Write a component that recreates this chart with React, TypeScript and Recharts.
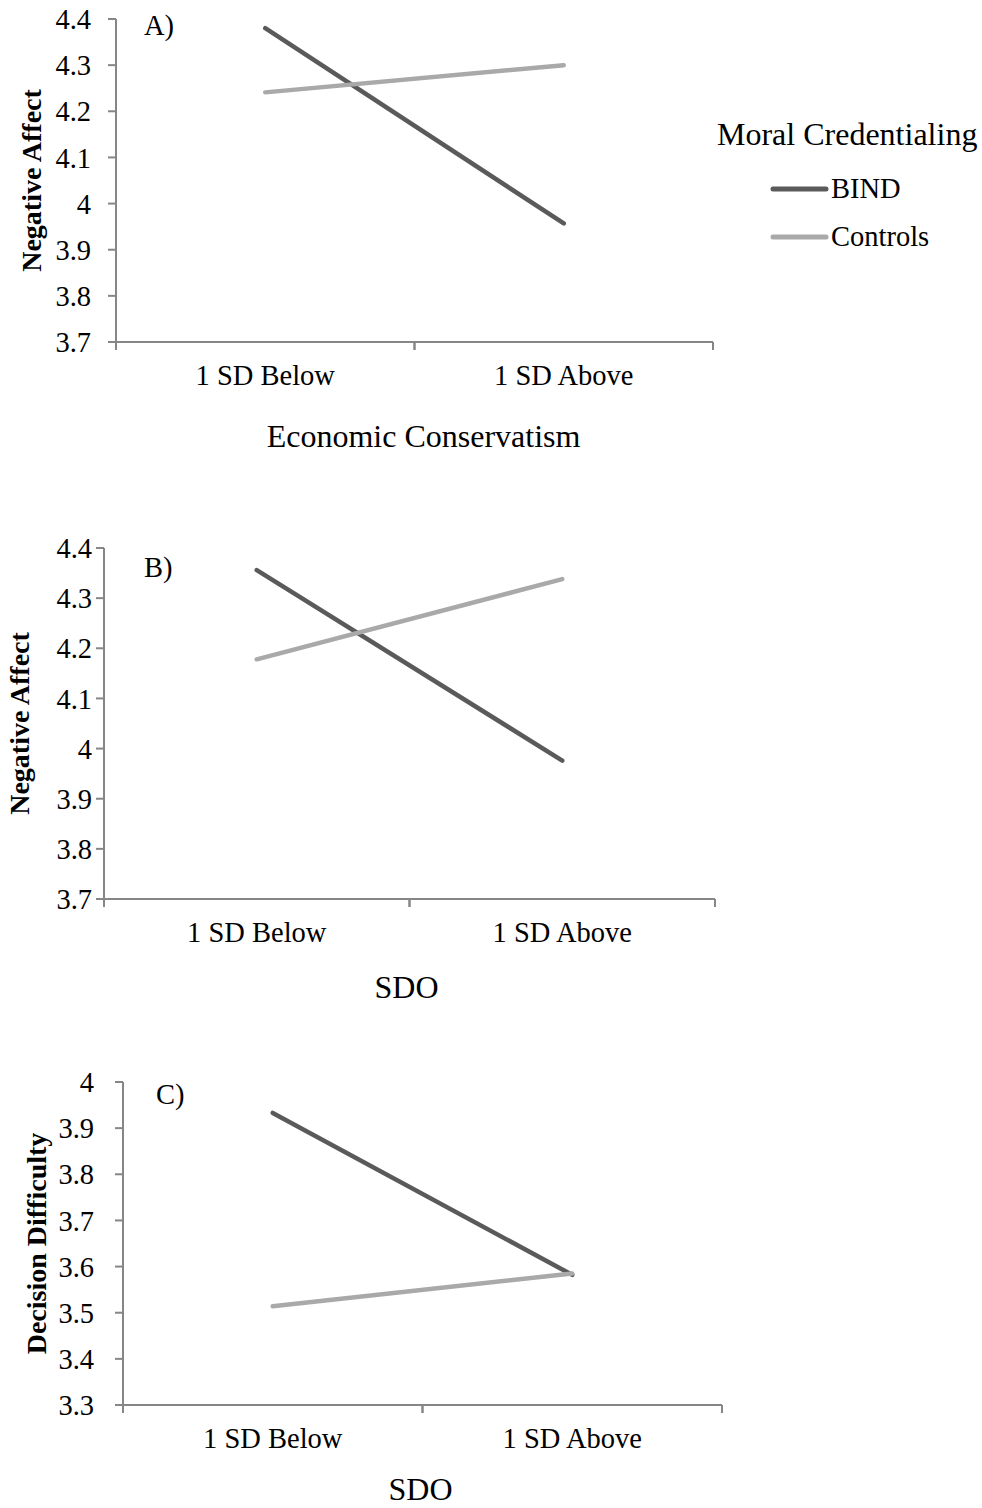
import React from 'react';
import { LineChart, Line, XAxis, YAxis, Legend } from 'recharts';

// ---------- data ----------
const categories = ['1 SD Below', '1 SD Above'];
const seriesNames = ['BIND', 'Controls'];
const seriesColors = ['#5a5a5a', '#a9a9a9'];
const legendTitle = 'Moral Credentialing';

const bindA = [4.38, 3.957];
const controlsA = [4.241, 4.3];
const bindB = [4.356, 3.976];
const controlsB = [4.178, 4.338];
const bindC = [3.933, 3.582];
const controlsC = [3.514, 3.585];

const ticksNegAffect = [3.7, 3.8, 3.9, 4, 4.1, 4.2, 4.3, 4.4];
const ticksDecision = [3.3, 3.4, 3.5, 3.6, 3.7, 3.8, 3.9, 4];

const buildRows = (bind: number[], controls: number[]) =>
  categories.map((c, i) => ({ cat: c, [seriesNames[0]]: bind[i], [seriesNames[1]]: controls[i] }));

const rowsA = buildRows(bindA, controlsA);
const rowsB = buildRows(bindB, controlsB);
const rowsC = buildRows(bindC, controlsC);

// ---------- styles ----------
const FONT = '"Liberation Serif", "Times New Roman", Times, serif';
const AXIS = '#868686';

const renderLegend = (props: any) => {
  const payload = props && props.payload ? props.payload : [];
  return (
    <svg width={265} height={150} style={{ overflow: 'visible', display: 'block' }}>
      <text x={0} y={35} fontSize={32} fontFamily={FONT} fill="#000">
        {legendTitle}
      </text>
      {payload.map((p: any, i: number) => (
        <g key={String(p.value)}>
          <line
            x1={56}
            x2={109}
            y1={79 + 48 * i}
            y2={79 + 48 * i}
            stroke={p.color}
            strokeWidth={5}
            strokeLinecap="round"
          />
          <text x={114} y={88 + 47.5 * i} fontSize={28.5} fontFamily={FONT} fill="#000">
            {p.value}
          </text>
        </g>
      ))}
    </svg>
  );
};

// Category tick: label at band centre, tick marks at band boundaries (Excel style)
const CategoryTick = (props: any) => {
  const { x, y, payload } = props;
  const off = payload && typeof payload.offset === 'number' ? payload.offset : 0;
  return (
    <g>
      <line x1={x - off} x2={x - off} y1={y} y2={y + 8} stroke={AXIS} strokeWidth={2} />
      <line x1={x + off} x2={x + off} y1={y} y2={y + 8} stroke={AXIS} strokeWidth={2} />
      <text x={x} y={y + 43} textAnchor="middle" fontSize={28.5} fontFamily={FONT} fill="#000">
        {payload ? payload.value : ''}
      </text>
    </g>
  );
};

type PanelProps = {
  top: number;
  height: number;
  data: any[];
  yTicks: number[];
  yWidth: number;
  marginTop: number;
  marginRight: number;
  marginBottom: number;
  xAxisHeight: number;
  yTickMargin: number;
  yLabel: string;
  yLabelX: number;
  xTitle: string;
  xTitleDx: number;
  panelLabel: string;
  panelLabelX: number;
  panelLabelY: number;
  showLegend?: boolean;
};

function Panel(p: PanelProps) {
  return (
    <div style={{ position: 'absolute', left: 0, top: p.top, width: 982, height: p.height }}>
      <LineChart
        width={982}
        height={p.height}
        data={p.data}
        margin={{ top: p.marginTop, right: p.marginRight, bottom: p.marginBottom, left: 0 }}
      >
        <XAxis
          dataKey="cat"
          type="category"
          scale="band"
          height={p.xAxisHeight}
          axisLine={{ stroke: AXIS, strokeWidth: 2 }}
          tickLine={false}
          tickSize={0}
          tickMargin={0}
          interval={0}
          tick={(tp: any) => <CategoryTick {...tp} />}
          label={{
            value: p.xTitle,
            position: 'insideBottom',
            offset: 0,
            dx: p.xTitleDx,
            fill: '#000',
            fontSize: 32,
            fontFamily: FONT,
          }}
        />
        <YAxis
          type="number"
          domain={[p.yTicks[0], p.yTicks[p.yTicks.length - 1]]}
          ticks={p.yTicks}
          interval={0}
          width={p.yWidth}
          tickSize={8}
          tickMargin={p.yTickMargin}
          axisLine={{ stroke: AXIS, strokeWidth: 2 }}
          tickLine={{ stroke: AXIS, strokeWidth: 2 }}
          tick={{ fill: '#000', fontSize: 28.5, fontFamily: FONT }}
          label={{
            value: p.yLabel,
            angle: -90,
            position: 'insideLeft',
            offset: p.yLabelX,
            style: { textAnchor: 'middle' },
            fill: '#000',
            fontSize: 28,
            fontWeight: 'bold',
            fontFamily: FONT,
          }}
        />
        {seriesNames.map((name, i) => (
          <Line
            key={name}
            type="linear"
            dataKey={name}
            name={name}
            stroke={seriesColors[i]}
            strokeWidth={4.5}
            strokeLinecap="round"
            dot={false}
            activeDot={false}
            isAnimationActive={false}
          />
        ))}
        {p.showLegend ? (
          <Legend
            layout="vertical"
            align="center"
            verticalAlign="middle"
            wrapperStyle={{ left: 717, top: 110, width: 265, height: 150 }}
            content={renderLegend}
          />
        ) : null}
        <text x={p.panelLabelX} y={p.panelLabelY} fontSize={28.5} fontFamily={FONT} fill="#000">
          {p.panelLabel}
        </text>
      </LineChart>
    </div>
  );
}

export default function App() {
  return (
    <div style={{ position: 'absolute', left: 0, top: 0, width: 982, height: 1508, background: '#fff' }}>
      <Panel
        top={0}
        height={470}
        data={rowsA}
        yTicks={ticksNegAffect}
        yWidth={116}
        marginTop={19}
        marginRight={269}
        marginBottom={23}
        xAxisHeight={105}
        yTickMargin={17}
        yLabel="Negative Affect"
        yLabelX={31}
        xTitle="Economic Conservatism"
        xTitleDx={9}
        panelLabel="A)"
        panelLabelX={144}
        panelLabelY={35}
        showLegend
      />
      <Panel
        top={470}
        height={540}
        data={rowsB}
        yTicks={ticksNegAffect}
        yWidth={104}
        marginTop={78}
        marginRight={267}
        marginBottom={12}
        xAxisHeight={99}
        yTickMargin={4}
        yLabel="Negative Affect"
        yLabelX={19}
        xTitle="SDO"
        xTitleDx={-3}
        panelLabel="B)"
        panelLabelX={144}
        panelLabelY={107}
      />
      <Panel
        top={1010}
        height={498}
        data={rowsC}
        yTicks={ticksDecision}
        yWidth={123}
        marginTop={72}
        marginRight={260}
        marginBottom={8}
        xAxisHeight={95}
        yTickMargin={21}
        yLabel="Decision Difficulty"
        yLabelX={36.5}
        xTitle="SDO"
        xTitleDx={-2}
        panelLabel="C)"
        panelLabelX={156}
        panelLabelY={94}
      />
    </div>
  );
}
